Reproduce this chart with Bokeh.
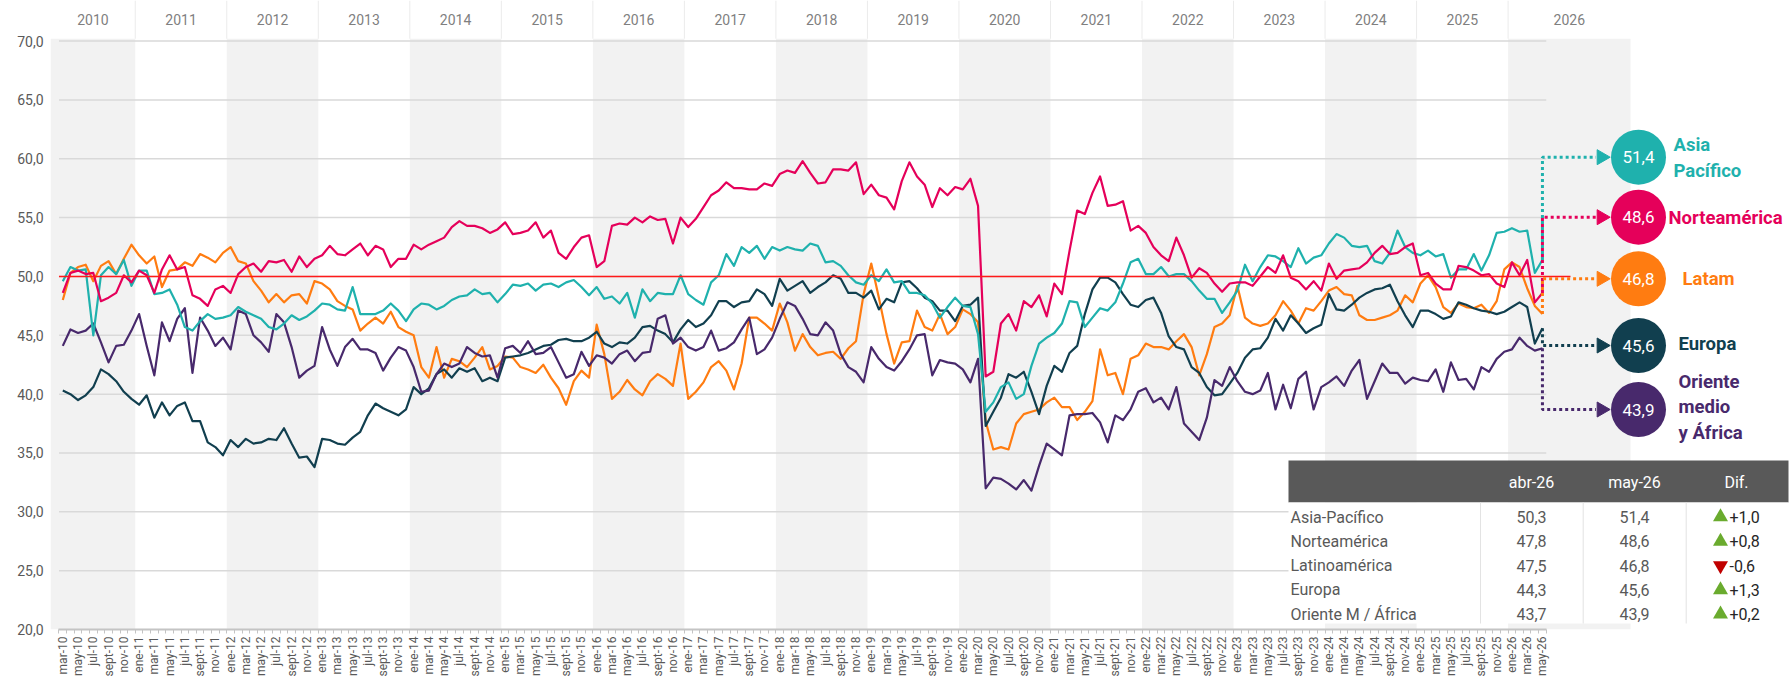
import math
from bokeh.plotting import figure
from bokeh.models import Range1d, FixedTicker
from bokeh.embed import file_html
from bokeh.resources import INLINE
from bokeh.core.properties import value

FONT = "Roboto"

# ---------------- data ----------------
MONTHS_ES = ["ene", "feb", "mar", "abr", "may", "jun", "jul", "ago", "sept", "oct", "nov", "dic"]
YEARS = list(range(2010, 2027))
CATEGORIES = [f"{MONTHS_ES[m]}-{str(y)[2:]}" for y in YEARS for m in range(12)
              if not (y == 2010 and m < 2) and not (y == 2026 and m > 4)]

ASIA = [
    49.6, 50.8, 50.5, 50.6, 45.0, 50.1, 50.8, 50.2, 51.4, 49.2,
    50.5, 50.5, 48.5, 48.6, 48.9, 47.6, 45.7, 45.4, 46.2, 46.8,
    46.4, 46.5, 46.7, 47.4, 47.0, 46.7, 46.4, 45.7, 45.5, 46.0,
    46.7, 46.3, 46.6, 47.1, 47.7, 47.6, 47.2, 47.1, 49.1, 46.8,
    46.8, 46.8, 47.1, 47.7, 47.1, 46.2, 47.2, 47.7, 47.6, 47.2,
    47.5, 48.0, 48.3, 48.4, 48.9, 48.5, 48.6, 47.8, 48.5, 49.3,
    49.2, 49.4, 48.8, 49.3, 49.4, 49.1, 49.5, 49.7, 49.1, 48.4,
    49.1, 48.1, 48.3, 47.7, 48.6, 46.5, 48.9, 47.9, 48.6,
    48.5, 48.5, 50.1, 48.5, 48.0, 47.6, 49.5, 50.1, 51.9, 50.9,
    52.5, 52.0, 52.6, 51.5, 52.5, 52.2, 52.5, 52.3, 52.2, 52.8,
    52.6, 51.2, 51.3, 50.9, 50.1, 49.5, 49.3, 50.1, 49.6, 50.6,
    49.5, 49.6, 48.6, 48.6, 48.4, 47.7, 46.5, 47.4,
    48.2, 47.5, 47.4, 45.1, 38.5, 39.3, 40.6, 41.0, 39.6, 40.0,
    42.4, 44.3, 44.8, 45.2, 46.0, 47.9, 47.8, 45.7, 46.5, 47.3,
    47.1, 47.8, 49.4, 51.2, 51.5, 50.2, 50.2, 50.8, 50.0, 50.2,
    50.2, 49.6, 48.8, 48.1, 48.1, 46.9, 47.8, 48.8, 51.0, 49.6,
    50.8, 51.8, 51.7, 51.3, 50.8, 52.4, 51.1, 51.6, 51.8, 52.8,
    53.6, 53.3, 52.6, 52.5, 52.6, 51.3, 51.1, 52.0, 53.9, 52.5,
    52.0, 51.8, 52.2, 51.7, 51.9, 49.9, 50.6, 50.6, 51.9, 50.5,
    51.8, 53.7, 53.8, 54.1, 53.8, 53.9, 50.3, 51.4,
]
NORTE = [
    48.6, 50.3, 50.5, 50.2, 50.3, 47.9, 48.2, 48.6, 50.1, 49.5,
    50.5, 50.1, 48.6, 50.6, 51.8, 50.6, 50.8, 48.4, 48.1, 47.5,
    48.9, 49.2, 48.6, 50.2, 50.8, 51.1, 50.4, 51.3, 51.2, 51.4,
    50.4, 51.7, 50.8, 51.5, 51.8, 52.6, 51.9, 51.8, 52.3, 52.8,
    51.8, 52.6, 52.3, 50.8, 51.5, 51.5, 52.7, 52.3, 52.7, 53.0,
    53.3, 54.2, 54.7, 54.3, 54.3, 54.1, 53.7, 54.0, 54.6, 53.6,
    53.7, 53.9, 54.6, 53.3, 53.9, 52.0, 51.5, 52.5, 53.3, 53.5,
    50.8, 51.3, 54.3, 54.5, 54.4, 55.0, 54.6, 55.1, 54.8,
    54.9, 52.8, 55.0, 54.2, 54.9, 55.9, 56.9, 57.3, 58.0, 57.5,
    57.5, 57.4, 57.4, 57.9, 57.7, 58.7, 59.0, 58.8, 59.8, 58.8,
    57.9, 58.0, 59.1, 59.1, 59.0, 59.7, 57.0, 57.8, 56.9, 56.7,
    55.7, 58.1, 59.7, 58.5, 57.8, 55.9, 57.5, 56.9,
    57.6, 57.4, 58.3, 56.0, 41.5, 41.9, 46.0, 46.8, 45.4, 47.9,
    47.4, 48.4, 46.6, 49.4, 48.5, 52.2, 55.6, 55.3, 57.1, 58.5,
    56.0, 56.1, 56.4, 53.9, 54.3, 53.7, 52.5, 51.8, 51.3, 53.3,
    51.8, 49.9, 50.7, 50.3, 49.4, 48.7, 49.4, 49.5, 49.5, 49.2,
    50.0, 50.8, 50.3, 51.8, 49.9, 49.6, 48.9, 49.6, 48.8, 51.1,
    49.8, 50.5, 50.6, 50.7, 51.2, 52.0, 52.6, 51.9, 52.0, 52.5,
    52.8, 50.1, 50.3, 49.4, 48.9, 48.9, 50.9, 50.8, 50.5, 50.1,
    50.2, 49.4, 49.1, 51.2, 50.1, 51.4, 47.8, 48.6,
]
LATAM = [
    48.0, 50.3, 50.8, 51.0, 49.6, 50.9, 51.3, 50.2, 51.5, 52.7,
    51.8, 51.1, 51.7, 49.1, 50.5, 50.6, 51.2, 50.9, 51.9, 51.6,
    51.2, 52.0, 52.5, 51.3, 51.1, 49.6, 48.8, 47.8, 48.5, 47.8,
    48.4, 48.5, 47.7, 49.6, 49.4, 48.9, 47.9, 47.5, 47.2, 45.4,
    46.0, 46.5, 46.0, 47.0, 45.7, 45.3, 45.0, 42.3, 41.4, 44.0,
    41.4, 43.0, 42.8, 42.3, 43.1, 44.0, 42.1, 42.4, 43.2, 43.1,
    42.3, 42.1, 41.8, 42.5, 41.4, 40.5, 39.1, 41.1, 42.0, 41.4,
    45.9, 43.4, 39.6, 40.2, 41.2, 40.4, 39.9, 41.1, 41.7,
    41.3, 40.7, 44.3, 39.6, 40.2, 41.0, 42.3, 42.8, 42.0, 40.4,
    42.6, 46.5, 46.5, 46.0, 45.4, 47.7, 46.1, 43.7, 45.1, 44.0,
    43.3, 43.5, 43.6, 43.0, 43.9, 44.5, 48.5, 51.1, 48.2, 45.1,
    42.6, 44.4, 44.5, 47.1, 45.7, 45.4, 46.8, 45.1,
    45.7, 47.2, 46.8, 46.1, 37.7, 35.3, 35.5, 35.3, 37.5, 38.3,
    38.5, 38.7, 39.3, 39.7, 38.9, 38.9, 37.8, 38.5, 39.4, 43.8,
    41.6, 41.8, 40.0, 43.0, 43.3, 44.3, 44.0, 44.0, 43.8, 44.5,
    45.1, 44.0, 41.6, 43.4, 45.7, 46.0, 46.7, 49.2, 46.5, 46.0,
    45.8, 46.0, 46.7, 47.9, 47.1, 46.0, 47.3, 47.1, 47.9, 48.8,
    49.1, 48.5, 48.4, 46.7, 46.3, 46.3, 46.5, 46.7, 47.1, 48.4,
    47.8, 49.4, 50.1, 49.1, 47.4, 46.9, 47.7, 47.4, 47.3, 47.6,
    46.9, 47.9, 50.6, 51.2, 50.8, 49.0, 47.5, 46.8,
]
EUROPA = [
    40.3, 40.0, 39.5, 39.9, 40.6, 42.1, 41.7, 41.1, 40.2, 39.6,
    39.1, 39.9, 38.0, 39.3, 38.2, 39.0, 39.3, 37.7, 37.7, 35.9,
    35.5, 34.8, 36.1, 35.5, 36.2, 35.8, 35.9, 36.2, 36.1, 37.1,
    35.8, 34.6, 34.7, 33.8, 36.2, 36.1, 35.8, 35.7, 36.3, 36.8,
    38.2, 39.2, 38.8, 38.5, 38.2, 38.7, 40.6, 40.0, 40.5, 41.7,
    42.1, 41.4, 42.2, 41.9, 42.2, 41.1, 41.4, 41.1, 43.1, 43.2,
    43.3, 43.5, 43.8, 44.1, 44.2, 44.6, 44.7, 44.5, 44.5, 44.8,
    45.3, 44.3, 44.0, 44.4, 44.3, 44.8, 45.7, 45.8, 45.4,
    45.1, 44.4, 45.5, 46.3, 45.7, 46.0, 46.7, 47.9, 47.9, 47.4,
    47.8, 47.9, 48.9, 48.5, 47.5, 49.8, 48.8, 49.2, 49.6, 48.6,
    49.1, 49.5, 50.1, 49.8, 48.6, 48.6, 48.2, 48.8, 47.2, 48.1,
    47.8, 49.5, 49.6, 49.0, 48.2, 47.9, 47.1, 47.1,
    46.2, 47.5, 47.6, 48.2, 37.3, 38.5, 39.7, 41.7, 41.4, 41.9,
    40.2, 38.3, 40.7, 42.4, 41.9, 43.5, 44.1, 46.8, 48.9, 49.9,
    49.9, 49.5, 48.5, 47.6, 47.4, 48.0, 48.2, 46.9, 44.9, 44.0,
    43.8, 42.3, 41.8, 40.6, 39.9, 40.0, 40.9, 41.8, 43.1, 43.8,
    43.9, 44.8, 46.4, 45.4, 46.7, 46.0, 45.2, 45.6, 45.9, 48.5,
    47.2, 47.1, 47.6, 48.2, 48.6, 48.9, 49.0, 49.3, 47.9, 46.7,
    45.7, 47.1, 47.1, 46.8, 46.4, 46.6, 47.8, 47.6, 47.3, 47.1,
    47.0, 46.8, 47.0, 47.4, 47.8, 47.4, 44.3, 45.6,
]
ORIENTE = [
    44.1, 45.5, 45.2, 45.4, 46.0, 44.4, 42.7, 44.1, 44.2, 45.4,
    46.8, 44.1, 41.6, 46.1, 44.5, 46.4, 47.3, 41.8, 46.5, 45.4,
    44.1, 44.8, 43.8, 47.1, 46.8, 45.0, 44.4, 43.6, 46.8, 46.1,
    44.0, 41.4, 42.0, 42.4, 45.7, 43.8, 42.4, 44.0, 44.7, 43.8,
    43.8, 43.5, 42.0, 43.1, 44.0, 43.7, 42.3, 40.2, 40.3, 41.7,
    42.6, 42.3, 42.6, 44.0, 43.5, 43.2, 43.3, 41.4, 43.9, 44.1,
    43.5, 44.5, 43.4, 43.5, 44.0, 42.7, 41.4, 41.7, 43.6, 42.4,
    43.3, 43.1, 42.6, 43.4, 43.7, 42.8, 43.5, 43.6, 46.4,
    46.7, 44.3, 44.8, 44.0, 43.7, 44.0, 45.4, 43.7, 43.9, 44.4,
    45.5, 46.5, 43.4, 43.8, 44.8, 46.4, 47.8, 47.5, 46.4, 45.1,
    45.0, 46.1, 45.4, 43.4, 42.3, 41.9, 41.0, 44.0, 43.0, 42.3,
    42.0, 42.8, 43.8, 45.0, 45.1, 41.6, 42.9, 42.7,
    42.6, 42.1, 41.0, 43.0, 32.0, 32.9, 32.8, 32.4, 31.9, 32.7,
    31.8, 33.9, 35.8, 35.3, 34.8, 38.2, 38.3, 38.3, 38.4, 37.6,
    35.9, 38.2, 37.8, 38.7, 40.2, 40.5, 39.3, 39.7, 38.7, 40.6,
    37.5, 36.8, 36.1, 38.0, 41.2, 40.7, 42.3, 41.1, 40.2, 40.0,
    40.3, 41.8, 38.7, 40.8, 38.8, 41.3, 41.9, 38.7, 40.6, 41.0,
    41.5, 40.7, 42.0, 42.9, 39.6, 41.1, 42.6, 41.8, 41.8, 40.9,
    41.4, 41.2, 41.1, 42.1, 40.2, 42.7, 41.2, 41.3, 40.4, 42.3,
    41.9, 43.0, 43.6, 43.8, 44.8, 44.1, 43.7, 43.9,
]

SERIES = [ASIA, NORTE, LATAM, EUROPA, ORIENTE]
TABLE_NAMES = ["Asia-Pacífico", "Norteamérica", "Latinoamérica", "Europa", "Oriente M / África"]
BUBBLE_LABELS = [["Asia", "Pacífico"], ["Norteamérica"], ["Latam"], ["Europa"], ["Oriente", "medio", "y África"]]
DIF = [1.0, 0.8, -0.6, 1.3, 0.2]
COLORS = ["#1fb1ad", "#e5005a", "#ff7c11", "#113f4f", "#48296c"]
Y_TICKS = [20, 25, 30, 35, 40, 45, 50, 55, 60, 65, 70]
REF_LEVEL = 50

for s in SERIES:
    assert len(s) == len(CATEGORIES), (len(s), len(CATEGORIES))

N = len(CATEGORIES)


def fmt(v):
    return f"{v:.1f}".replace(".", ",")


# ---------------- layout (figure pixels -> data units) ----------------
W, H = 1790, 680
FRAME_L, FRAME_B = 50, 629
X0, PXC = 62.3, 7.627          # px of category 0, px per category
PY70 = 40.6                    # px of the 70 line
PYU = (FRAME_B - PY70) / 50.0  # px per unit
Y_TOP = 70 + PY70 / PYU        # value at frame top


def dx(px):
    return (px - X0) / PXC


def dy(py):
    return Y_TOP - py / PYU


p = figure(width=W, height=H, output_backend="svg", toolbar_location=None,
           x_range=Range1d(dx(FRAME_L), dx(W)), y_range=Range1d(20, Y_TOP),
           min_border_left=FRAME_L, min_border_right=0, min_border_top=0,
           min_border_bottom=H - FRAME_B, outline_line_color=None,
           background_fill_color="white", border_fill_color="white")
p.xgrid.visible = False
p.ygrid.visible = False

# x axis
xa = p.xaxis[0]
xa.ticker = FixedTicker(ticks=list(range(0, N, 2)), minor_ticks=[i - 0.5 for i in range(N + 1)])
xa.major_label_overrides = {i: CATEGORIES[i] for i in range(0, N, 2)}
xa.major_label_orientation = math.pi / 2
xa.bounds = (-0.5, N - 0.5)
xa.axis_line_color = "#c4c4c4"
xa.axis_line_width = 2
xa.major_tick_line_color = None
xa.major_tick_out = 0
xa.major_tick_in = 0
xa.minor_tick_line_color = "#c4c4c4"
xa.minor_tick_out = 4
xa.minor_tick_in = 0
xa.major_label_standoff = 3
xa.major_label_text_font = FONT
xa.major_label_text_font_size = "12px"
xa.major_label_text_color = "#595959"

# y axis
ya = p.yaxis[0]
ya.ticker = FixedTicker(ticks=Y_TICKS)
ya.major_label_overrides = {t: fmt(t) for t in Y_TICKS}
ya.axis_line_color = None
ya.major_tick_line_color = None
ya.minor_tick_line_color = None
ya.major_tick_out = 0
ya.major_tick_in = 0
ya.major_label_standoff = 7
ya.major_label_text_font = FONT
ya.major_label_text_font_size = "14px"
ya.major_label_text_color = "#595959"


# ---------------- year bands & header ----------------
def year_start(y):
    return (y - YEARS[0]) * 12 - 2 - 0.5


x_left = dx(FRAME_L)
band_end = dx(1630)
bl, br = [], []
for y in YEARS[::2]:
    l = max(year_start(y), x_left)
    r = year_start(y + 1) if y < YEARS[-1] else band_end
    bl.append(l)
    br.append(r)
p.quad(left=bl, right=br, bottom=20, top=70.2, fill_color="#f2f2f2", line_color=None)

sep_x = [year_start(y) for y in YEARS[1:]]
p.segment(x0=sep_x, y0=70.2, x1=sep_x, y1=Y_TOP, line_color="#ebebeb", line_width=1)

yc = []
for y in YEARS:
    l = max(year_start(y), x_left)
    r = year_start(y + 1) if y < YEARS[-1] else band_end
    yc.append((l + r) / 2)
p.text(x=yc, y=dy(19), text=[str(y) for y in YEARS], text_align="center", text_baseline="middle",
       text_color="#7f7f7f", text_font=value(FONT), text_font_size="14px")

# gridlines
gy = Y_TICKS[1:]
p.segment(x0=-0.5, y0=gy, x1=N - 0.5, y1=gy, line_color="#d9d9d9", line_width=1.5)

# ---------------- series ----------------
xs = list(range(N))
for idx in [2, 3, 4, 0, 1]:
    p.line(x=xs, y=SERIES[idx], line_color=COLORS[idx], line_width=2.2, line_join="round")

# reference line at 50
p.segment(x0=-0.5, y0=REF_LEVEL, x1=dx(1570), y1=REF_LEVEL, line_color="#ff1a1a", line_width=1.6)

# ---------------- connectors & bubbles ----------------
BUBBLE_PY = [156.7, 216.7, 278.3, 345.0, 409.0]
bub_x = dx(1638)
tip_x = dx(1608)
arrow_len = 14 / PXC
last_x = N - 1
for k, s in enumerate(SERIES):
    b = dy(BUBBLE_PY[k])
    p.line(x=[last_x, last_x, tip_x - arrow_len + 0.2], y=[s[-1], b, b], line_color=COLORS[k],
           line_width=3, line_dash="3 3")
    p.scatter(x=[tip_x - arrow_len / 2], y=[b], marker="triangle", angle=-math.pi / 2, size=15,
              fill_color=COLORS[k], line_color=COLORS[k])

bys = [dy(v) for v in BUBBLE_PY]
p.scatter(x=[bub_x] * 5, y=bys, marker="circle", size=55, fill_color=COLORS, line_color=None)
p.text(x=[bub_x] * 5, y=bys, text=[fmt(s[-1]) for s in SERIES], text_align="center",
       text_baseline="middle", text_color="white", text_font=value(FONT), text_font_size="17px")

LABEL_POS = [(1673, [144, 170]), (1668, [217]), (1682, [278]), (1678, [343]), (1678, [381, 406, 432])]
for k, (lx, lys) in enumerate(LABEL_POS):
    p.text(x=[dx(lx)] * len(lys), y=[dy(v) for v in lys], text=BUBBLE_LABELS[k], text_align="left",
           text_baseline="middle", text_color=COLORS[k], text_font=value(FONT),
           text_font_size="18.5px", text_font_style="bold")

# ---------------- table ----------------
TL, TR = dx(1288), dx(1788)
p.quad(left=TL, right=TR, top=dy(460), bottom=dy(502), fill_color="#595959", line_color=None)
p.quad(left=TL, right=TR, top=dy(502), bottom=dy(623), fill_color="white", line_color=None)
sx = [dx(1480), dx(1582.7), dx(1685.7)]
p.segment(x0=sx, y0=dy(502), x1=sx, y1=dy(623), line_color="#e3e3e3", line_width=1)

COLS = [dx(1531), dx(1634), dx(1736)]
p.text(x=COLS, y=dy(482), text=[CATEGORIES[-2], CATEGORIES[-1], "Dif."], text_align="center",
       text_baseline="middle", text_color="white", text_font=value(FONT), text_font_size="16px")

rows_y = [dy(516.5 + 24.3 * k) for k in range(5)]
p.text(x=[dx(1290)] * 5, y=rows_y, text=TABLE_NAMES, text_align="left", text_baseline="middle",
       text_color="#595959", text_font=value(FONT), text_font_size="16px")
p.text(x=[COLS[0]] * 5, y=rows_y, text=[fmt(s[-2]) for s in SERIES], text_align="center",
       text_baseline="middle", text_color="#595959", text_font=value(FONT), text_font_size="16px")
p.text(x=[COLS[1]] * 5, y=rows_y, text=[fmt(s[-1]) for s in SERIES], text_align="center",
       text_baseline="middle", text_color="#595959", text_font=value(FONT), text_font_size="16px")
up_y = [rows_y[k] for k in range(5) if DIF[k] >= 0]
dn_y = [rows_y[k] for k in range(5) if DIF[k] < 0]
p.scatter(x=[dx(1720)] * len(up_y), y=up_y, marker="triangle", size=15, fill_color="#6aab2e", line_color=None)
p.scatter(x=[dx(1720)] * len(dn_y), y=dn_y, marker="inverted_triangle", size=15, fill_color="#c00000",
          line_color=None)
p.text(x=[dx(1729)] * 5, y=rows_y, text=[("+" if d >= 0 else "-") + fmt(abs(d)) for d in DIF],
       text_align="left", text_baseline="middle", text_color="#262626", text_font=value(FONT),
       text_font_size="16px")

open("out.html", "w").write(file_html(p, INLINE))
